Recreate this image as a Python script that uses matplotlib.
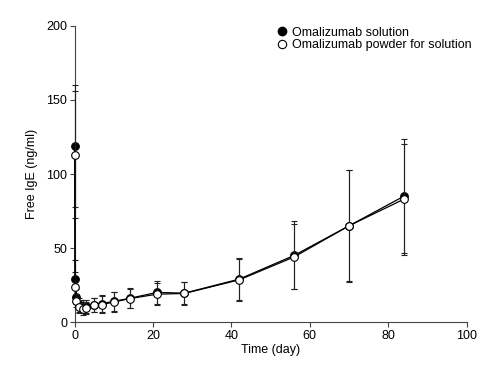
import matplotlib
matplotlib.use("Agg")
import matplotlib.pyplot as plt

plt.rcParams['font.family'] = ['Liberation Sans', 'DejaVu Sans']

# sampling times (days)
days = [0, 0.08, 0.25, 1, 2, 3, 5, 7, 10, 14, 21, 28, 42, 56, 70, 84]

# Omalizumab solution: mean and SD of free IgE (ng/ml)
sol_mean = [119, 29, 17, 11.5, 10.5, 10.5, 11.5, 12.5, 14, 16, 20, 19.5, 29, 45, 65, 85]
sol_sd = [41, 13, 5, 4.5, 4.5, 4.5, 5, 5.5, 6.3, 6.7, 8, 7.5, 14, 23, 38, 38.5]

# Omalizumab powder for solution
pow_mean = [113, 23.5, 14.5, 10, 9, 9.5, 11.3, 11.8, 13.5, 15.8, 18.8, 19.3, 28.5, 44, 65, 83]
pow_sd = [43, 10, 4.5, 4, 4, 4.3, 4.8, 5.5, 6.5, 6.5, 7.5, 7.5, 14, 22, 37.5, 37.5]

fig = plt.figure(figsize=(4.98, 3.8), dpi=100)
ax = fig.add_axes([0.150, 0.1526, 0.787, 0.779])

ebkw = dict(ecolor='#222222', elinewidth=0.8, capsize=2.5, capthick=0.8, lw=0.9,
            markersize=5.5, markeredgewidth=0.8, clip_on=False)

ax.errorbar(days, sol_mean, yerr=sol_sd, fmt='-o', color='black',
            markerfacecolor='black', markeredgecolor='black', zorder=3, **ebkw)
ax.errorbar(days, pow_mean, yerr=pow_sd, fmt='-o', color='black',
            markerfacecolor='white', markeredgecolor='black', zorder=4, **ebkw)

# legend: markers only
h1, = ax.plot([], [], 'o', color='black', markersize=6)
h2, = ax.plot([], [], 'o', markerfacecolor='white', markeredgecolor='black',
              markersize=6, markeredgewidth=0.8)
ax.legend([h1, h2], ['Omalizumab solution', 'Omalizumab powder for solution'],
          loc='upper left', bbox_to_anchor=(0.512, 0.998), frameon=False,
          fontsize=9, handlelength=1.0, handletextpad=0.35, labelspacing=0.05,
          borderpad=0, borderaxespad=0)

ax.set_xlim(0, 100)
ax.set_ylim(0, 200)
ax.set_xticks([0, 20, 40, 60, 80, 100])
ax.set_yticks([0, 50, 100, 150, 200])

for s in ['top', 'right']:
    ax.spines[s].set_visible(False)
for s in ['left', 'bottom']:
    ax.spines[s].set_linewidth(0.8)
    ax.spines[s].set_color('#444444')
ax.tick_params(direction='out', length=3.5, width=0.8, color='#444444',
               labelsize=9, pad=2)

ax.set_xlabel('Time (day)', fontsize=9, labelpad=2)
ax.set_ylabel('Free IgE (ng/ml)', fontsize=9, labelpad=6)

fig.savefig('out.png', dpi=100)
